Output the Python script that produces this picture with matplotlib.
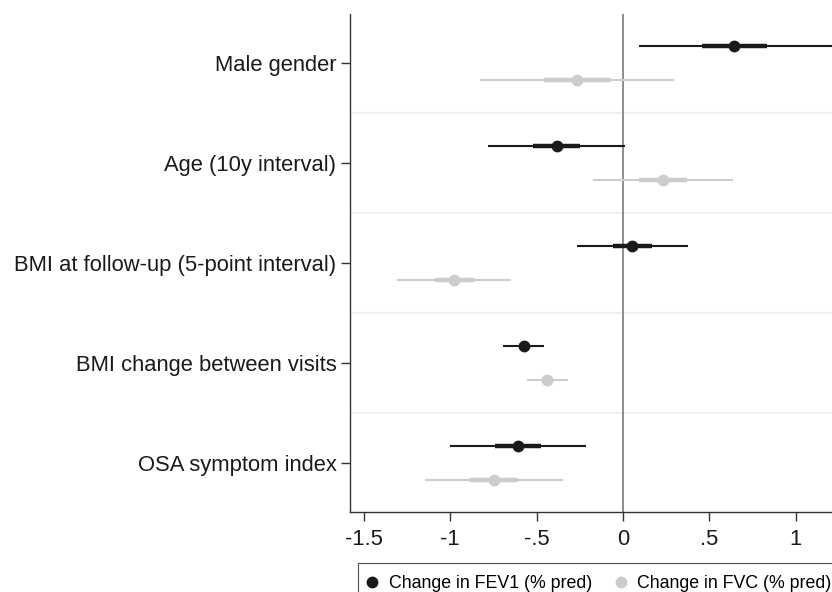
import numpy as np
import matplotlib
matplotlib.use('Agg')
import matplotlib.pyplot as plt
from matplotlib.lines import Line2D

plt.rcParams['font.family'] = ['Liberation Sans', 'DejaVu Sans']

categories = ['Male gender', 'Age (10y interval)', 'BMI at follow-up (5-point interval)',
              'BMI change between visits', 'OSA symptom index']

# FEV1 estimates with inner (thick) and outer (thin) intervals
fev1_est = [0.645, -0.384, 0.052, -0.575, -0.606]
fev1_in_lo = [0.459, -0.521, -0.058, -0.605, -0.739]
fev1_in_hi = [0.836, -0.249, 0.166, -0.545, -0.473]
fev1_out_lo = [0.094, -0.780, -0.268, -0.693, -1.000]
fev1_out_hi = [1.25, 0.012, 0.375, -0.459, -0.216]

# FVC
fvc_est = [-0.266, 0.230, -0.979, -0.438, -0.747]
fvc_in_lo = [-0.457, 0.093, -1.090, -0.468, -0.884]
fvc_in_hi = [-0.071, 0.369, -0.865, -0.408, -0.610]
fvc_out_lo = [-0.826, -0.172, -1.307, -0.556, -1.145]
fvc_out_hi = [0.297, 0.635, -0.649, -0.318, -0.347]

xticks = [-1.5, -1, -0.5, 0, 0.5, 1]
xticklabels = ['-1.5', '-1', '-.5', '0', '.5', '1']

black = '#1a1a1a'
grey = '#cccccc'

fig = plt.figure(figsize=(8.32, 5.92), dpi=100)
ax = fig.add_axes([350.3/832, 1-512/592, 1-350.3/832, (512-14)/592])

ypos = np.arange(len(categories))[::-1] + 1.0
off = 0.167

for est, ilo, ihi, olo, ohi, col, dy in [
        (fev1_est, fev1_in_lo, fev1_in_hi, fev1_out_lo, fev1_out_hi, black, off),
        (fvc_est, fvc_in_lo, fvc_in_hi, fvc_out_lo, fvc_out_hi, grey, -off)]:
    y = ypos + dy
    ax.hlines(y, olo, ohi, color=col, lw=1.5, zorder=3)
    ax.hlines(y, ilo, ihi, color=col, lw=3.2, zorder=3)
    ax.plot(est, y, 'o', color=col, ms=8.5, zorder=4, mec='none')

for g in [1.5, 2.5, 3.5, 4.5]:
    ax.axhline(g, color='#f0f0f0', lw=1.5, zorder=1)
ax.axvline(0, color='#7a7a7a', lw=1.2, zorder=2)

ax.set_xlim(-1.579, 1.21)
ax.set_ylim(0.51, 5.49)
ax.set_yticks(ypos)
ax.set_yticklabels(categories)
ax.set_xticks(xticks)
ax.set_xticklabels(xticklabels)
ax.tick_params(labelsize=15.8, length=6.5, width=1, color='#333333', labelcolor='#1a1a1a')
ax.tick_params(axis='y', pad=3.5)
ax.tick_params(axis='x', pad=5.5)
for s in ['top', 'right']:
    ax.spines[s].set_visible(False)
for s in ['left', 'bottom']:
    ax.spines[s].set_color('#333333')
    ax.spines[s].set_linewidth(1)

handles = [Line2D([], [], marker='o', ls='none', color=black, ms=8.5, mec='none'),
           Line2D([], [], marker='o', ls='none', color=grey, ms=8.5, mec='none')]
leg = fig.legend(handles, ['Change in FEV1 (% pred)', 'Change in FVC (% pred)'],
                 loc='upper left', bbox_to_anchor=(358/832, 1-563/592), ncol=2,
                 fontsize=12.8, frameon=True, fancybox=False, edgecolor='#222222',
                 handletextpad=0.84, columnspacing=1.5, borderpad=0.7,
                 handlelength=0.2, borderaxespad=0)
leg.get_frame().set_linewidth(0.8)

fig.savefig('out.png', dpi=100)
